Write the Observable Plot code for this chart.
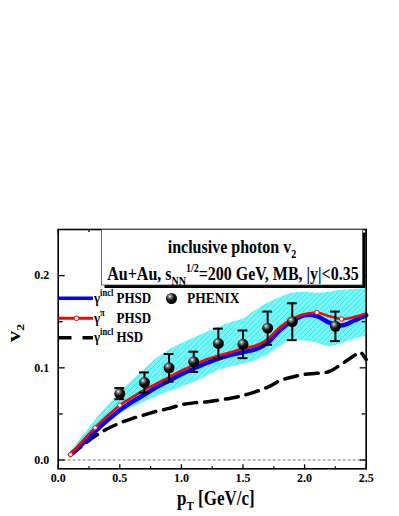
<!DOCTYPE html>
<html><head><meta charset="utf-8">
<script src="https://cdn.jsdelivr.net/npm/d3@7"></script>
<script src="https://cdn.jsdelivr.net/npm/@observablehq/plot@0.6"></script>
<style>body{margin:0;background:#fff} svg{display:block}</style>
</head><body><div id="chart"></div>
<script>
// ---- data ----
const pT        = [0.1,0.2,0.3,0.4,0.5,0.6,0.7,0.8,0.9,1.0,1.1,1.2,1.3,1.4,1.5,1.6,1.7,1.8,1.9,2.0,2.1,2.2,2.3,2.4,2.5];
const phsdIncl  = [0.006,0.018,0.031,0.043,0.054,0.063,0.071,0.079,0.086,0.093,0.099,0.105,0.110,0.114,0.117,0.120,0.127,0.141,0.151,0.157,0.156,0.149,0.146,0.151,0.157];
const phsdPi    = [0.006,0.021,0.035,0.048,0.0595,0.068,0.076,0.083,0.090,0.097,0.103,0.109,0.113,0.117,0.121,0.124,0.131,0.144,0.153,0.158,0.160,0.156,0.153,0.155,0.159];
const bandLow   = [0.004,0.014,0.028,0.040,0.050,0.057,0.063,0.069,0.074,0.079,0.084,0.090,0.097,0.101,0.104,0.108,0.114,0.123,0.130,0.129,0.127,0.123,0.126,0.131,0.134];
const bandHigh  = [0.008,0.026,0.043,0.058,0.072,0.086,0.098,0.110,0.119,0.126,0.132,0.138,0.144,0.149,0.153,0.162,0.170,0.176,0.181,0.182,0.181,0.182,0.184,0.185,0.186];
const hsdPT     = [0.1,0.2,0.3,0.4,0.5,0.6,0.7,0.8,0.9,1.0,1.1,1.2,1.3,1.4,1.5,1.6,1.7,1.8,1.9,2.0,2.1,2.2,2.3,2.4,2.45,2.5];
const hsdIncl   = [0.005,0.016,0.026,0.034,0.040,0.045,0.049,0.053,0.056,0.060,0.062,0.063,0.065,0.067,0.070,0.074,0.079,0.086,0.090,0.093,0.094,0.096,0.104,0.113,0.117,0.109];
const phenixPT  = [0.5,0.7,0.9,1.1,1.3,1.5,1.7,1.9,2.25];
const phenixV2  = [0.072,0.084,0.100,0.1065,0.1265,0.1255,0.143,0.150,0.145];
const phenixErr = [0.006,0.011,0.015,0.011,0.016,0.015,0.018,0.020,0.016];
const piMarkerPT = [0.1,0.3,0.5,2.1,2.3];
const xTicks = [0,0.5,1.0,1.5,2.0,2.5];
const xMinor = [0.25,0.75,1.25,1.75,2.25];
const yTicks = [0,0.1,0.2];
const yMinor = [0.05,0.15];

// ---- tables ----
const curve = pT.map((x,i)=>({pT:x, incl:phsdIncl[i], pi:phsdPi[i], lo:bandLow[i], hi:bandHigh[i]}));
const hsd = hsdPT.map((x,i)=>({pT:x, v2:hsdIncl[i]}));
const phenix = phenixPT.map((x,i)=>({pT:x, v2:phenixV2[i], err:phenixErr[i]}));
const piMarkers = piMarkerPT.map(x=>({pT:x, v2:phsdPi[pT.findIndex(p=>Math.abs(p-x)<1e-9)]}));

const FONT = "'Liberation Serif','Times New Roman',serif";
const noText = () => "";
const tickOpts = {tickFormat: noText, label: null, strokeWidth: 1.3};

const svg = Plot.plot({
  width: 399, height: 516,
  marginTop: 229, marginLeft: 57.7, marginRight: 33.3, marginBottom: 47.7,
  x: {domain: [0, 2.5]},
  y: {domain: [-0.0095, 0.25]},
  style: {fontFamily: FONT, background: "white", color: "black"},
  marks: [
    Plot.areaY(curve, {x: "pT", y1: "lo", y2: "hi", fill: "url(#hatch)", curve: "catmull-rom"}),
    Plot.ruleY([0], {stroke: "#555", strokeWidth: 0.8, strokeDasharray: "3,2"}),
    Plot.line(hsd, {x: "pT", y: "v2", stroke: "black", strokeWidth: 3.5, strokeDasharray: "13,8", curve: "catmull-rom"}),
    Plot.line(curve, {x: "pT", y: "incl", stroke: "#0000ff", strokeWidth: 4.4, curve: "catmull-rom"}),
    Plot.line(curve, {x: "pT", y: "pi", stroke: "#ff0000", strokeWidth: 2.6, curve: "catmull-rom"}),
    Plot.dot(piMarkers, {x: "pT", y: "v2", r: 2.2, fill: "white", stroke: "#ff0000", strokeWidth: 1}),
    Plot.ruleX(phenix, {x: "pT", y1: d => d.v2 - d.err, y2: d => d.v2 + d.err, stroke: "black", strokeWidth: 2}),
    Plot.ruleY(phenix, {y: d => d.v2 + d.err, x1: d => d.pT - 0.04, x2: d => d.pT + 0.04, stroke: "black", strokeWidth: 2}),
    Plot.ruleY(phenix, {y: d => d.v2 - d.err, x1: d => d.pT - 0.04, x2: d => d.pT + 0.04, stroke: "black", strokeWidth: 2}),
    Plot.dot(phenix, {x: "pT", y: "v2", r: 5.5, fill: "url(#sphere)", stroke: "none"}),
    Plot.frame({stroke: "black", strokeWidth: 1.6}),
    // tick labels
    Plot.axisX({ticks: xTicks, anchor: "bottom", tickSize: 0, tickPadding: 5, tickFormat: d3.format(".1f"), label: null, fontSize: 12, fontWeight: "bold"}),
    Plot.axisY({ticks: yTicks, anchor: "left", tickSize: 0, tickPadding: 9, tickFormat: d3.format(".1f"), label: null, fontSize: 12, fontWeight: "bold"}),
    // inward ticks on all sides
    Plot.axisX({ticks: xTicks, anchor: "top", frameAnchor: "bottom", tickSize: 5, ...tickOpts}),
    Plot.axisX({ticks: xMinor, anchor: "top", frameAnchor: "bottom", tickSize: 3, ...tickOpts}),
    Plot.axisX({ticks: xTicks, anchor: "bottom", frameAnchor: "top", tickSize: 5, ...tickOpts}),
    Plot.axisX({ticks: xMinor, anchor: "bottom", frameAnchor: "top", tickSize: 3, ...tickOpts}),
    Plot.axisY({ticks: yTicks, anchor: "right", frameAnchor: "left", tickSize: 6, ...tickOpts}),
    Plot.axisY({ticks: yMinor, anchor: "right", frameAnchor: "left", tickSize: 4, ...tickOpts}),
    Plot.axisY({ticks: yTicks, anchor: "left", frameAnchor: "right", tickSize: 6, ...tickOpts}),
    Plot.axisY({ticks: yMinor, anchor: "left", frameAnchor: "right", tickSize: 4, ...tickOpts})
  ]
});

const s = d3.select(svg);
const defs = s.insert("defs", ":first-child");
const pat = defs.append("pattern").attr("id", "hatch").attr("patternUnits", "userSpaceOnUse").attr("width", 5).attr("height", 5);
pat.append("rect").attr("width", 5).attr("height", 5).attr("fill", "#66ffff");
pat.append("path").attr("d", "M0,5 L5,0 M-1,1 L1,-1 M4,6 L6,4").attr("stroke", "#9aa").attr("stroke-width", 0.6);
const g = defs.append("radialGradient").attr("id", "sphere").attr("cx", "40%").attr("cy", "35%").attr("r", "60%").attr("fx", "35%").attr("fy", "30%");
g.append("stop").attr("offset", "0%").attr("stop-color", "#ffffff");
g.append("stop").attr("offset", "22%").attr("stop-color", "#888888");
g.append("stop").attr("offset", "60%").attr("stop-color", "#111111");
g.append("stop").attr("offset", "100%").attr("stop-color", "#000000");

const ann = s.append("g").attr("font-family", FONT).attr("font-weight", "bold").attr("fill", "black").attr("text-anchor", "start");
const at = (x, y, ky) => `translate(${x},${y}) scale(1,${ky})`;

// title box with shadow
ann.append("rect").attr("x", 104.5).attr("y", 232.5).attr("width", 261).attr("height", 55.5).attr("fill", "black");
ann.append("rect").attr("x", 101.5).attr("y", 229.5).attr("width", 261).attr("height", 55.5).attr("fill", "white").attr("stroke", "#444").attr("stroke-width", 0.8);
const t1 = ann.append("text").attr("transform", at(232, 253, 1.18)).attr("text-anchor", "middle").attr("font-size", 16);
t1.append("tspan").text("inclusive photon v");
t1.append("tspan").attr("dy", 4).attr("font-size", 10).text("2");
const t2 = ann.append("text").attr("transform", at(233, 280, 1.18)).attr("text-anchor", "middle").attr("font-size", 16);
t2.append("tspan").text("Au+Au, s");
t2.append("tspan").attr("dy", 4).attr("font-size", 10).text("NN");
t2.append("tspan").attr("dy", -11).attr("font-size", 10).text("1/2");
t2.append("tspan").attr("dy", 7).text("=200 GeV, MB, |y|<0.35");

// legend
function gammaLabel(y, sup, name) {
  const t = ann.append("text").attr("transform", at(94, y, 1.1)).attr("font-size", 13);
  t.append("tspan").text("γ");
  t.append("tspan").attr("dy", -6).attr("font-size", 8.5).text(sup);
  t.append("tspan").attr("dy", 6).attr("x", 22.5).text(name);
}
ann.append("line").attr("x1", 58.5).attr("x2", 93).attr("y1", 298.3).attr("y2", 298.3).attr("stroke", "#0000ff").attr("stroke-width", 3.5);
gammaLabel(303, "incl", "PHSD");
ann.append("line").attr("x1", 58.5).attr("x2", 93).attr("y1", 318.3).attr("y2", 318.3).attr("stroke", "#ff0000").attr("stroke-width", 3);
ann.append("circle").attr("cx", 76.5).attr("cy", 318.3).attr("r", 2.4).attr("fill", "white").attr("stroke", "#ff0000").attr("stroke-width", 1);
gammaLabel(323, "π", "PHSD");
ann.append("line").attr("x1", 58.5).attr("x2", 93).attr("y1", 337.7).attr("y2", 337.7).attr("stroke", "black").attr("stroke-width", 3.5).attr("stroke-dasharray", "13,11");
gammaLabel(342, "incl", "HSD");
ann.append("circle").attr("cx", 171.5).attr("cy", 298.5).attr("r", 5.5).attr("fill", "url(#sphere)");
ann.append("text").attr("transform", at(187, 303, 1.1)).attr("font-size", 13.5).text("PHENIX");

// axis titles
const xl = ann.append("text").attr("transform", at(177, 505, 1.22)).attr("font-size", 17);
xl.append("tspan").text("p");
xl.append("tspan").attr("dy", 4).attr("font-size", 11).text("T");
xl.append("tspan").attr("dy", -4).text(" [GeV/c]");
const yl = ann.append("text").attr("transform", "translate(20,333) rotate(-90) scale(1.25,1)").attr("text-anchor", "middle").attr("font-size", 18);
yl.append("tspan").text("v");
yl.append("tspan").attr("dy", 4).attr("font-size", 11).text("2");

document.getElementById("chart").appendChild(svg);
</script>
</body></html>
